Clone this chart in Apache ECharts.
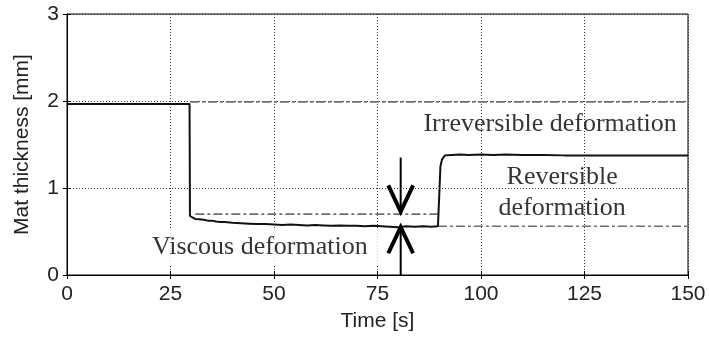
<!DOCTYPE html>
<html><head><meta charset="utf-8">
<script src="https://cdn.jsdelivr.net/npm/echarts@6/dist/echarts.min.js"></script>
<style>html,body{margin:0;padding:0;background:#fff}#c{width:709px;height:337px}</style>
</head><body><div id="c"></div>
<script>
// ---- data ----
const timeS = [0, 29.6, 29.7, 30.0, 30.5, 31, 32, 33, 34, 35, 36, 37, 38, 40, 42, 44, 46, 48, 50, 52, 54, 56, 58, 60, 62, 64, 66, 68, 70, 72, 74, 76, 78, 80, 82, 84, 86, 88, 89.6, 89.9, 90.2, 90.6, 91.3, 93, 95, 97, 100, 103, 106, 110, 115, 120, 125, 130, 140, 150];
const thicknessMm = [1.965, 1.965, 0.68, 0.67, 0.655, 0.645, 0.64, 0.635, 0.625, 0.625, 0.615, 0.61, 0.61, 0.60, 0.595, 0.59, 0.585, 0.585, 0.58, 0.575, 0.58, 0.575, 0.57, 0.575, 0.57, 0.565, 0.57, 0.565, 0.565, 0.56, 0.565, 0.56, 0.555, 0.55, 0.56, 0.555, 0.56, 0.555, 0.56, 0.9, 1.25, 1.33, 1.375, 1.38, 1.385, 1.38, 1.385, 1.38, 1.385, 1.38, 1.38, 1.375, 1.375, 1.375, 1.375, 1.375];
const xTickLabels = [0, 25, 50, 75, 100, 125, 150];
const yTickLabels = [0, 1, 2, 3];
// dash-dot reference levels: [xStart, xEnd, level]
const refInitial = [29.7, 150, 1.99];
const refViscousTop = [31, 89.6, 0.70];
const refFinal = [89.6, 150, 0.56];
// arrows at t = 80.6 s
const arrowT = 80.6;
const downArrow = [1.35, 0.73];   // from, tip
const upArrow = [0, 0.55];        // from, tip
const chevronHalfT = 3.0, chevronDepth = 0.30;
// annotation anchors [t, mm, text]
const notes = [
  [116.7, 1.73, 'Irreversible deformation'],
  [119.6, 0.95, 'Reversible\ndeformation'],
  [46.7, 0.32, 'Viscous deformation']
];

const curve = timeS.map((t, i) => [t, thicknessMm[i]]);
const refLine = r => [[r[0], r[2]], [r[1], r[2]]];
const shaft = a => [[arrowT, a[0]], [arrowT, a[1]]];
const chevron = a => {
  const dir = a[1] < a[0] ? 1 : -1;
  return [[arrowT - chevronHalfT, a[1] + dir * chevronDepth], [arrowT, a[1]], [arrowT + chevronHalfT, a[1] + dir * chevronDepth]];
};

const dashDot = { color: '#6e6e6e', width: 1.6, type: [9, 3, 3, 3] };
const tickFont = { fontFamily: 'Liberation Sans', fontSize: 21, color: '#222' };
const serif = { fontFamily: 'Liberation Serif', fontSize: 26, color: '#000' };

const chart = echarts.init(document.getElementById('c'), null, { renderer: 'canvas' });
chart.setOption({
  animation: false,
  backgroundColor: '#fff',
  grid: { left: 67, right: 21, top: 14, bottom: 61, show: true, borderColor: '#000', borderWidth: 1, backgroundColor: 'transparent' },
  xAxis: [{
    type: 'value', min: 0, max: 150, interval: 25,
    name: 'Time [s]', nameLocation: 'middle', nameGap: 36,
    nameTextStyle: tickFont,
    axisLine: { show: true, lineStyle: { color: '#000', width: 1 } },
    axisTick: { show: true, inside: true, length: 4, lineStyle: { color: '#000' } },
    axisLabel: Object.assign({ margin: 9, formatter: v => xTickLabels.includes(v) ? String(v) : '' }, tickFont),
    splitLine: { show: true, lineStyle: { color: '#333', width: 1, type: [1, 2] } }
  }, {
    type: 'value', min: 0, max: 150, interval: 25, position: 'top',
    axisLine: { show: false }, axisLabel: { show: false }, splitLine: { show: false },
    axisTick: { show: true, inside: true, length: 4, lineStyle: { color: '#000' } }
  }],
  yAxis: [{
    type: 'value', min: 0, max: 3, interval: 1,
    name: 'Mat thickness [mm]', nameLocation: 'middle', nameGap: 34,
    nameTextStyle: tickFont,
    axisLine: { show: true, lineStyle: { color: '#000', width: 1 } },
    axisTick: { show: true, inside: true, length: 4, lineStyle: { color: '#000' } },
    axisLabel: Object.assign({ margin: 8, formatter: v => yTickLabels.includes(v) ? String(v) : '' }, tickFont),
    splitLine: { show: true, lineStyle: { color: '#333', width: 1, type: [1, 2] } }
  }, {
    type: 'value', min: 0, max: 3, interval: 1, position: 'right',
    axisLine: { show: false }, axisLabel: { show: false }, splitLine: { show: false },
    axisTick: { show: true, inside: true, length: 4, lineStyle: { color: '#000' } }
  }],
  series: [
    { type: 'line', data: refLine(refInitial), showSymbol: false, lineStyle: dashDot, z: 3 },
    { type: 'line', data: refLine(refViscousTop), showSymbol: false, lineStyle: dashDot, z: 3 },
    { type: 'line', data: refLine(refFinal), showSymbol: false, lineStyle: dashDot, z: 3 },
    { type: 'line', data: curve, showSymbol: false, lineStyle: { color: '#111', width: 2 }, z: 4 },
    { type: 'line', data: shaft(downArrow), showSymbol: false, lineStyle: { color: '#000', width: 2 }, z: 5 },
    { type: 'line', data: chevron(downArrow), showSymbol: false, lineStyle: { color: '#000', width: 4, join: 'miter' }, z: 5 },
    { type: 'line', data: shaft(upArrow), showSymbol: false, lineStyle: { color: '#000', width: 2 }, z: 5 },
    { type: 'line', data: chevron(upArrow), showSymbol: false, lineStyle: { color: '#000', width: 4, join: 'miter' }, z: 5 },
    {
      type: 'scatter', symbolSize: 1, itemStyle: { color: 'rgba(0,0,0,0)' }, z: 6,
      data: notes.map((n, i) => ({
        value: [n[0], n[1]], name: n[2],
        label: Object.assign({
          show: true, position: 'inside', formatter: '{b}', align: 'center', verticalAlign: 'middle',
          lineHeight: 31
        }, serif, i === 2 ? { backgroundColor: '#fff', padding: [3, 12, 2, 11] } : {})
      }))
    }
  ]
});
</script>
</body></html>
